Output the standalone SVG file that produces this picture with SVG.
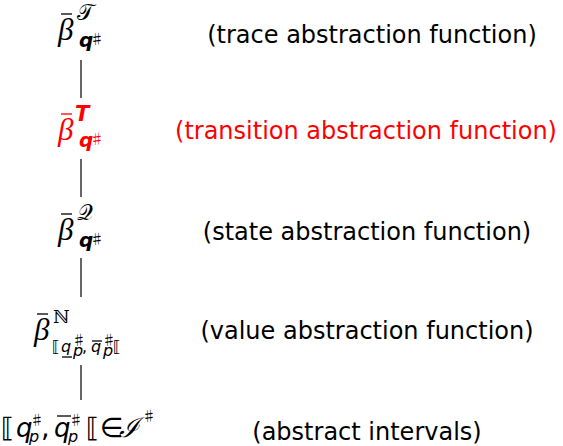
<svg xmlns="http://www.w3.org/2000/svg" width="563" height="446" viewBox="0 0 563 446">
<style>
.lbl{font-family:"DejaVu Sans","Noto Sans",sans-serif;font-size:24px;fill:#000;text-anchor:middle}
.red{fill:#ff0000}
.beta{font-family:"Liberation Serif","DejaVu Serif",serif;font-style:italic;font-size:31px}
.cal{font-family:"DejaVu Sans",serif;font-size:22px}
.sup{font-family:"DejaVu Sans",sans-serif;font-style:italic;font-size:21px;font-weight:bold}
.q{font-family:"DejaVu Sans",sans-serif;font-style:italic;font-weight:bold;font-size:20px}
.sh{font-family:"Noto Sans CJK JP","DejaVu Sans",sans-serif;font-size:14px}
.m{font-family:"DejaVu Sans",sans-serif;font-size:27px}
.mi{font-family:"DejaVu Sans",sans-serif;font-style:italic;font-size:26px}
.s{font-family:"DejaVu Sans",sans-serif;font-size:16px}
.si{font-family:"DejaVu Sans",sans-serif;font-style:italic;font-size:16px}
.bar{stroke:#000;stroke-width:1.3}
.conn line{stroke:#000;stroke-width:1.2}
</style>
<g class="conn" id="connectors">
<line x1="81" y1="60" x2="81" y2="98"/>
<line x1="81" y1="159" x2="81" y2="197"/>
<line x1="81" y1="258" x2="81" y2="297"/>
<line x1="81" y1="365" x2="81" y2="400"/>
</g>
<g id="n1">
<line class="bar" x1="61" y1="14" x2="72" y2="14"/>
<text class="beta" x="58" y="40">β</text>
<text class="cal" x="77" y="20">𝒯</text>
<text class="q" x="79" y="47">q</text><text class="sh" x="90" y="44">♯</text>
<text class="lbl" x="372" y="43">(trace abstraction function)</text>
</g>
<g id="n2">
<line x1="61" y1="114" x2="72" y2="114" stroke="#ff0000" stroke-width="1.3"/>
<text class="beta red" x="58" y="140">β</text>
<text class="sup red" x="75" y="121">T</text>
<text class="q red" x="79" y="147">q</text><text class="sh red" x="90" y="144">♯</text>
<text class="lbl red" x="366" y="139">(transition abstraction function)</text>
</g>
<g id="n3">
<line class="bar" x1="61" y1="214" x2="72" y2="214"/>
<text class="beta" x="58" y="240">β</text>
<text class="cal" x="77" y="220">𝒬</text>
<text class="q" x="79" y="247">q</text><text class="sh" x="90" y="244">♯</text>
<text class="lbl" x="367" y="240">(state abstraction function)</text>
</g>
<g id="n4">
<line class="bar" x1="37" y1="314" x2="48" y2="314"/>
<text class="beta" x="34" y="340">β</text>
<text x="53" y="323" font-family="DejaVu Serif,serif" font-size="18">ℕ</text>
<text class="s" x="52" y="352">⟦</text>
<text class="si" x="61" y="352">q</text>
<line class="bar" x1="62" y1="357" x2="72" y2="357" stroke-width="1"/>
<text class="sh" x="72" y="345" font-size="10">♯</text>
<text class="si" x="73" y="356" font-size="11">p</text>
<text class="s" x="82" y="352">,</text>
<line class="bar" x1="92" y1="341" x2="102" y2="341" stroke-width="1"/>
<text class="si" x="91" y="352">q</text>
<text class="sh" x="102" y="345" font-size="10">♯</text>
<text class="si" x="103" y="356" font-size="11">p</text>
<text class="s" x="113" y="352">⟦</text>
<text class="lbl" x="367" y="339">(value abstraction function)</text>
</g>
<g id="n5">
<text class="m" x="1" y="437">⟦</text>
<text class="mi" x="16" y="437">q</text>
<text class="sh" x="30" y="425">♯</text>
<text class="si" x="29" y="442">p</text>
<text class="m" x="41" y="437">,</text>
<line class="bar" x1="57" y1="416" x2="71" y2="416"/>
<text class="mi" x="54" y="437">q</text>
<text class="sh" x="69" y="425">♯</text>
<text class="si" x="68" y="442">p</text>
<text class="m" x="86" y="437">⟦</text>
<text class="m" x="100" y="437">∈</text>
<text x="119" y="437" font-family="DejaVu Serif,serif" font-style="italic" font-size="27">ℐ</text>
<text class="sh" x="142" y="421">♯</text>
<text class="lbl" x="367" y="440">(abstract intervals)</text>
</g>
</svg>
